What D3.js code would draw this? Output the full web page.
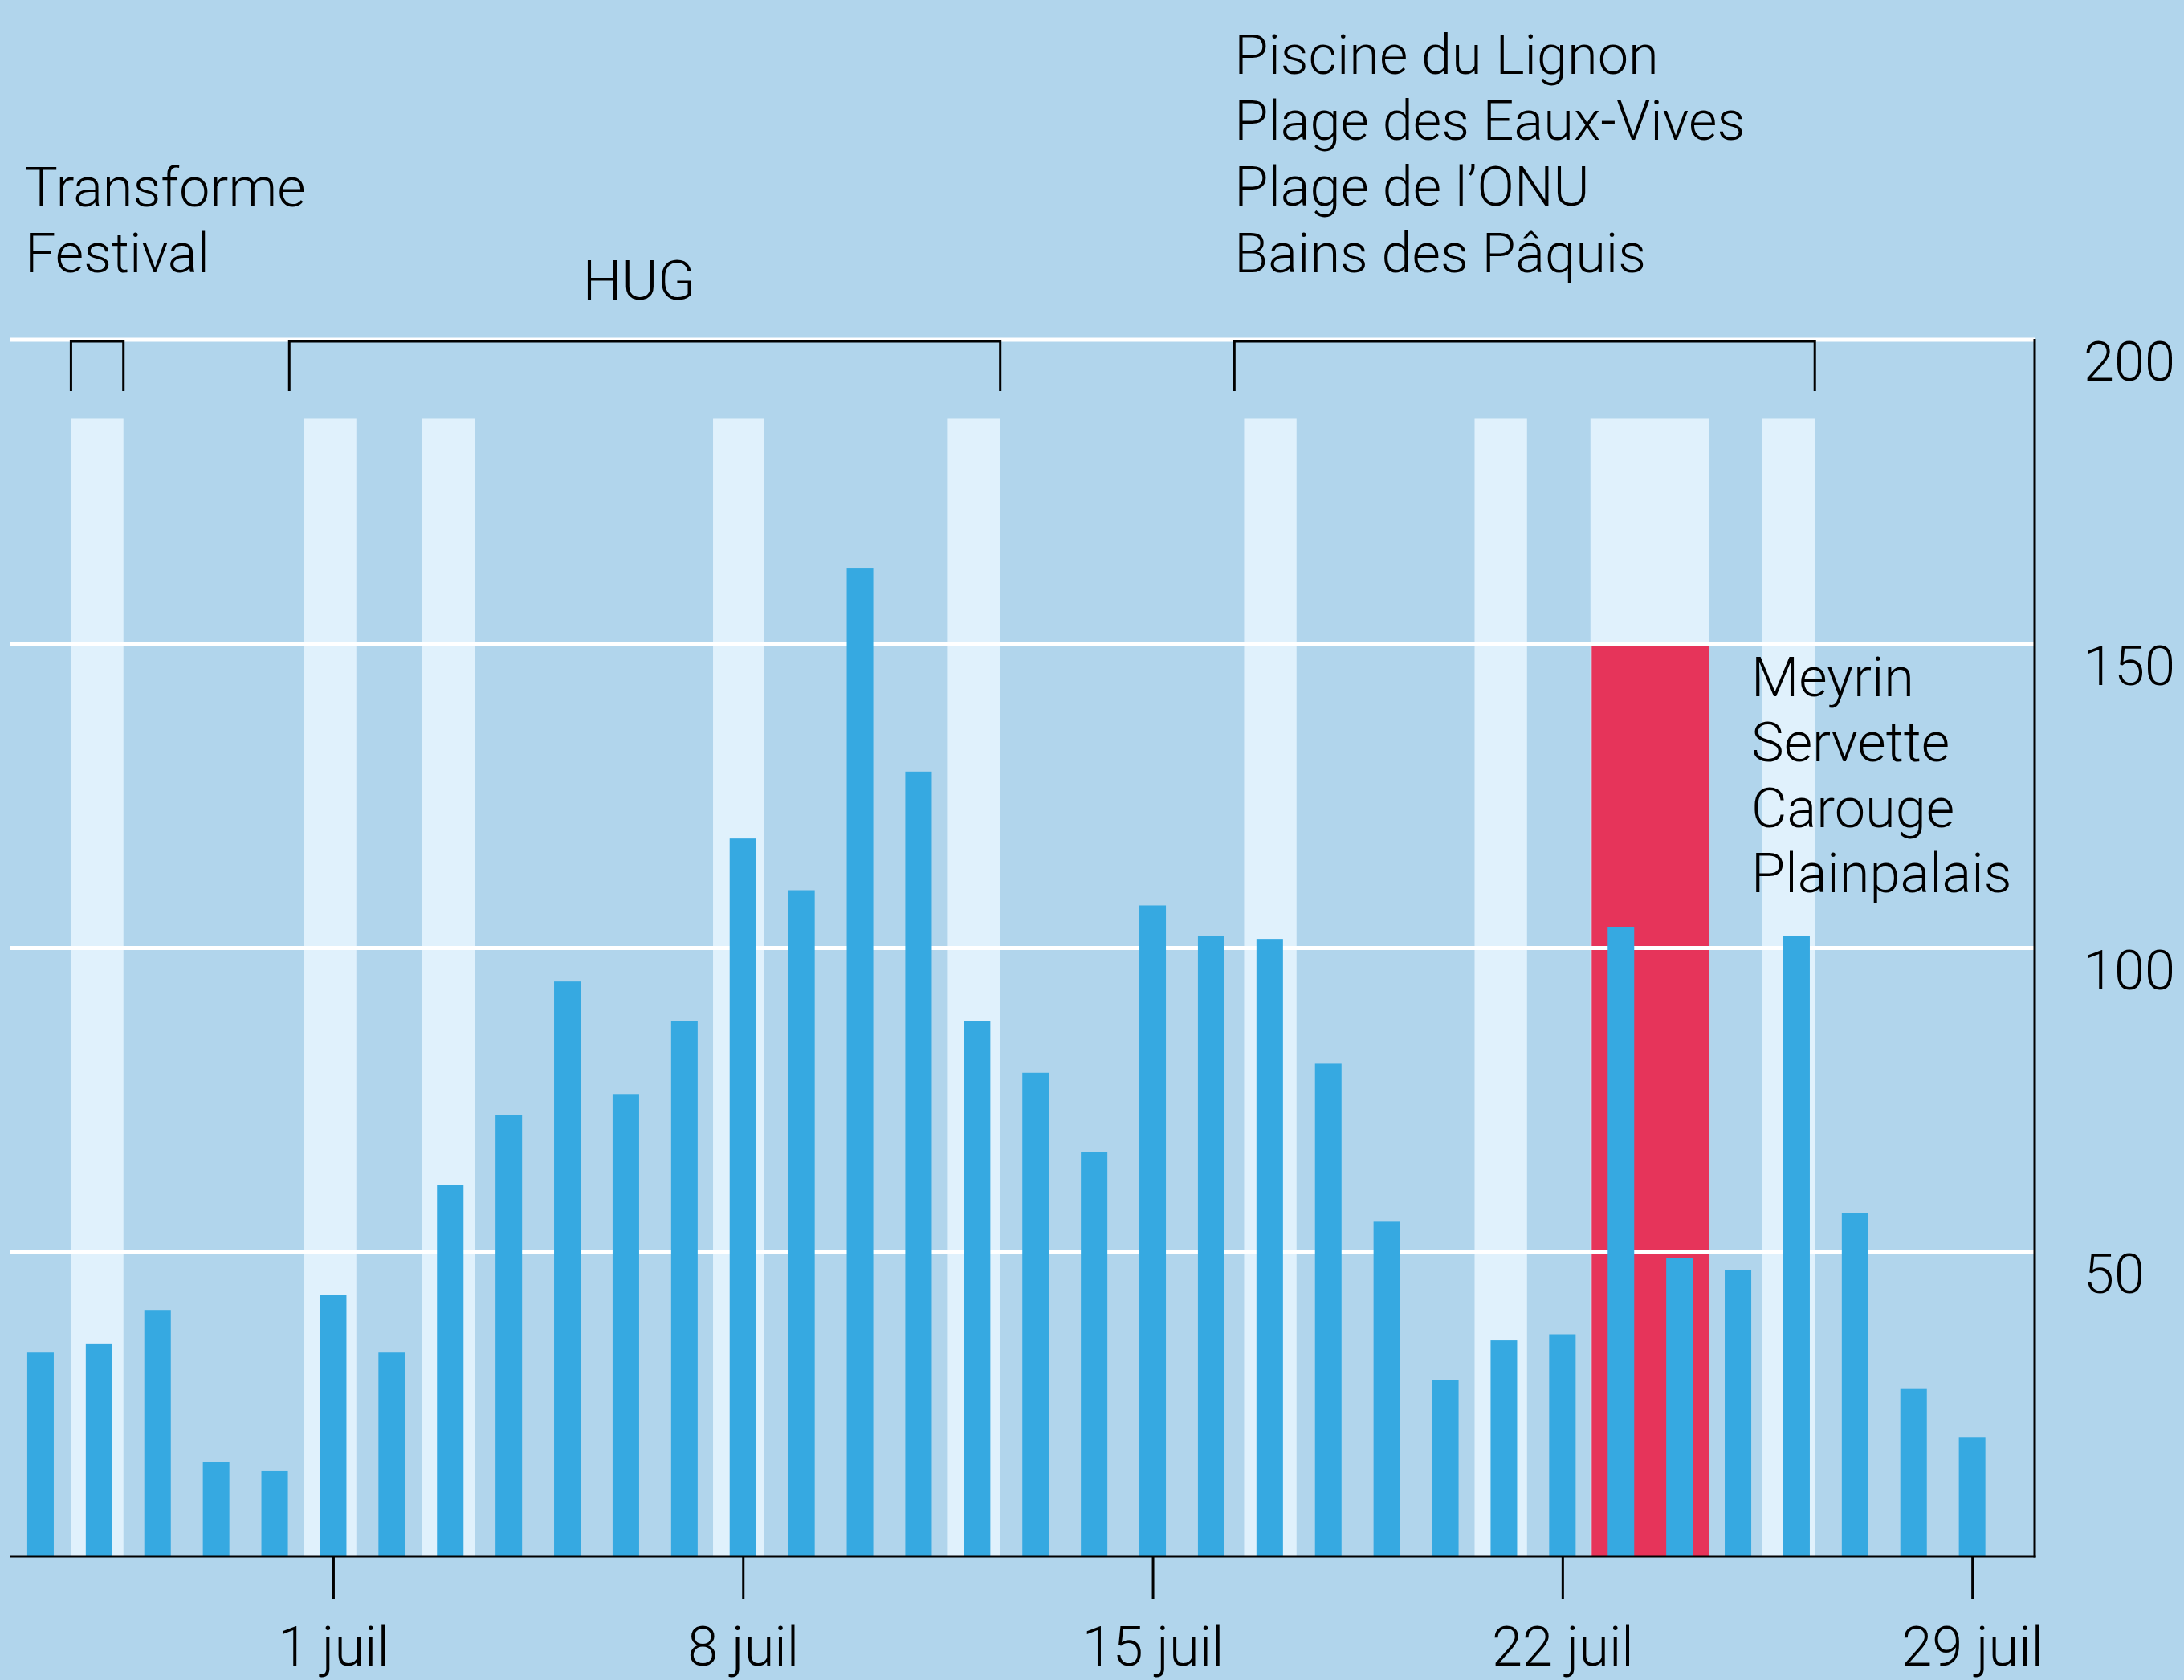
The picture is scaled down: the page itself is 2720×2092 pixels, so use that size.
<!DOCTYPE html>
<html>
<head>
<meta charset="utf-8">
<script src="https://cdn.jsdelivr.net/npm/d3@7"></script>
<style>
  body { margin: 0; background: #b1d5ec; }
  svg { display: block; }
  text { font-family: Roboto, "Noto Sans", sans-serif; font-weight: 300; fill: #000; }
</style>
</head>
<body>
<div class="vis-bars"></div>
<script>
// daily counts, 26 juin -> 29 juil
const days = [
  "2019-06-26", "2019-06-27", "2019-06-28", "2019-06-29", "2019-06-30",
  "2019-07-01", "2019-07-02", "2019-07-03", "2019-07-04", "2019-07-05",
  "2019-07-06", "2019-07-07", "2019-07-08", "2019-07-09", "2019-07-10",
  "2019-07-11", "2019-07-12", "2019-07-13", "2019-07-14", "2019-07-15",
  "2019-07-16", "2019-07-17", "2019-07-18", "2019-07-19", "2019-07-20",
  "2019-07-21", "2019-07-22", "2019-07-23", "2019-07-24", "2019-07-25",
  "2019-07-26", "2019-07-27", "2019-07-28", "2019-07-29"
];
const cases = [
  33.5, 35, 40.5, 15.5, 14, 43, 33.5, 61, 72.5, 94.5,
  76, 88, 118, 109.5, 162.5, 129, 88, 79.5, 66.5, 107,
  102, 101.5, 81, 55, 29, 35.5, 36.5, 103.5, 49, 47,
  102, 56.5, 27.5, 19.5
];

// pale stripes (periods)
const stripeStart = ["2019-06-27 00:30", "2019-07-01 00:00", "2019-07-03 00:30", "2019-07-07 23:45",
  "2019-07-12 00:00", "2019-07-17 01:30", "2019-07-21 00:00", "2019-07-22 23:30", "2019-07-25 22:00"];
const stripeEnd = ["2019-06-27 22:00", "2019-07-01 21:30", "2019-07-03 22:00", "2019-07-08 20:45",
  "2019-07-12 21:30", "2019-07-17 23:00", "2019-07-21 21:30", "2019-07-25 00:00", "2019-07-26 19:30"];
const stripeTopValue = 187;

// red block
const redStart = "2019-07-23 00:00";
const redEnd = "2019-07-25 00:00";
const redValue = 150;
const redLabel = ["Meyrin", "Servette", "Carouge", "Plainpalais"];

// brackets at the top
const bracketStart = ["2019-06-27 00:30", "2019-06-30 18:00", "2019-07-16 21:30"];
const bracketEnd = ["2019-06-27 22:00", "2019-07-12 21:30", "2019-07-26 19:30"];
const bracketLabels = [
  ["Transforme", "Festival"],
  ["HUG"],
  ["Piscine du Lignon", "Plage des Eaux-Vives", "Plage de l’ONU", "Bains des Pâquis"]
];

const yTicks = [50, 100, 150, 200];

const parseDay = d3.timeParse("%Y-%m-%d");
const parseTime = d3.timeParse("%Y-%m-%d %H:%M");

const W = 2720, H = 2092;
const margin = { left: 14, right: 186, top: 423, bottom: 154 };
const fontSize = 68.5;

const svg = d3.select(".vis-bars")
  .append("svg")
  .attr("width", W)
  .attr("height", H);

svg.append("rect").attr("width", W).attr("height", H).attr("fill", "#b1d5ec");

const x = d3.scaleTime()
  .domain([parseDay("2019-06-26"), parseTime("2019-07-30 13:38")])
  .range([margin.left, W - margin.right]);

const y = d3.scaleLinear()
  .domain([0, 200])
  .range([H - margin.bottom, margin.top]);

const noon = (d) => d3.timeHour.offset(parseDay(d), 12);
const dayW = x(parseDay("2019-06-27")) - x(parseDay("2019-06-26"));
const barW = dayW * 0.453;

// stripes
svg.append("g")
  .selectAll("rect")
  .data(stripeStart.map((s, i) => [parseTime(s), parseTime(stripeEnd[i])]))
  .enter()
  .append("rect")
  .attr("x", (d) => x(d[0]))
  .attr("width", (d) => x(d[1]) - x(d[0]))
  .attr("y", y(stripeTopValue))
  .attr("height", y(0) - y(stripeTopValue))
  .attr("fill", "#e0f1fc");

// red block
svg.append("rect")
  .attr("x", x(parseTime(redStart)))
  .attr("width", x(parseTime(redEnd)) - x(parseTime(redStart)))
  .attr("y", y(redValue))
  .attr("height", y(0) - y(redValue))
  .attr("fill", "#e6345a");

// gridlines
svg.append("g")
  .selectAll("line")
  .data(yTicks)
  .enter()
  .append("line")
  .attr("x1", margin.left - 1)
  .attr("x2", W - margin.right)
  .attr("y1", (d) => y(d))
  .attr("y2", (d) => y(d))
  .attr("stroke", "#fff")
  .attr("stroke-width", 5);

// bars
svg.append("g")
  .selectAll("rect")
  .data(days.map((d, i) => ({ day: d, value: cases[i] })))
  .enter()
  .append("rect")
  .attr("x", (d) => x(noon(d.day)) - barW / 2)
  .attr("width", barW)
  .attr("y", (d) => y(d.value))
  .attr("height", (d) => y(0) - y(d.value))
  .attr("fill", "#36a9e1");

// right axis line + labels
svg.append("line")
  .attr("x1", W - margin.right).attr("x2", W - margin.right)
  .attr("y1", y(200) - 1).attr("y2", y(0) + 1.5)
  .attr("stroke", "#000").attr("stroke-width", 3);

svg.append("g")
  .selectAll("text")
  .data(yTicks)
  .enter()
  .append("text")
  .attr("x", W - margin.right + 61)
  .attr("y", (d) => y(d) + 51)
  .style("font-size", fontSize + "px")
  .text((d) => d);

// bottom axis
const xAxis = d3.axisBottom(x)
  .tickValues(d3.timeMonday.range(parseDay("2019-06-26"), parseDay("2019-07-30")).map((d) => d3.timeHour.offset(d, 12)))
  .tickSize(53)
  .tickPadding(0)
  .tickFormat((d) => d.getDate() + " juil");

const gx = svg.append("g")
  .attr("transform", "translate(0," + y(0) + ")")
  .call(xAxis);
gx.select(".domain").remove();
gx.selectAll(".tick line").attr("stroke", "#000").attr("stroke-width", 3);
gx.selectAll(".tick text")
  .attr("y", 136)
  .attr("dy", null)
  .style("font-size", fontSize + "px")
  .style("font-family", "Roboto, sans-serif")
  .style("font-weight", 300)
  .attr("fill", "#000");

svg.append("line")
  .attr("x1", margin.left - 1).attr("x2", W - margin.right + 1.5)
  .attr("y1", y(0)).attr("y2", y(0))
  .attr("stroke", "#000").attr("stroke-width", 3);

// brackets
const bracketTop = y(200) + 2;
const bracketBottom = 487;
const brackets = svg.append("g")
  .selectAll("g")
  .data(bracketStart.map((s, i) => ({ a: parseTime(s), b: parseTime(bracketEnd[i]), lines: bracketLabels[i] })))
  .enter()
  .append("g");

brackets.append("path")
  .attr("d", (d) => "M" + x(d.a) + "," + bracketBottom + "V" + bracketTop + "H" + x(d.b) + "V" + bracketBottom)
  .attr("fill", "none")
  .attr("stroke", "#000")
  .attr("stroke-width", 3);

// label placement per bracket
const labelPos = [
  { dx: (d) => 31, anchor: "start", base: 257 },
  { dx: (d) => (x(d.a) + x(d.b)) / 2 - 7, anchor: "middle", base: 373 },
  { dx: (d) => x(d.a), anchor: "start", base: 92 }
];
brackets.each(function (d, i) {
  const p = labelPos[i];
  d3.select(this)
    .selectAll("text")
    .data(d.lines)
    .enter()
    .append("text")
    .attr("x", p.dx(d))
    .attr("y", (t, j) => p.base + j * 82.2)
    .attr("text-anchor", p.anchor)
    .style("font-size", fontSize + "px")
    .text((t) => t);
});

svg.append("g")
  .selectAll("text")
  .data(redLabel)
  .enter()
  .append("text")
  .attr("x", x(parseTime(redEnd)) + 53)
  .attr("y", (d, i) => y(redValue) + 65 + i * 81.5)
  .style("font-size", fontSize + "px")
  .text((d) => d);
</script>
</body>
</html>
